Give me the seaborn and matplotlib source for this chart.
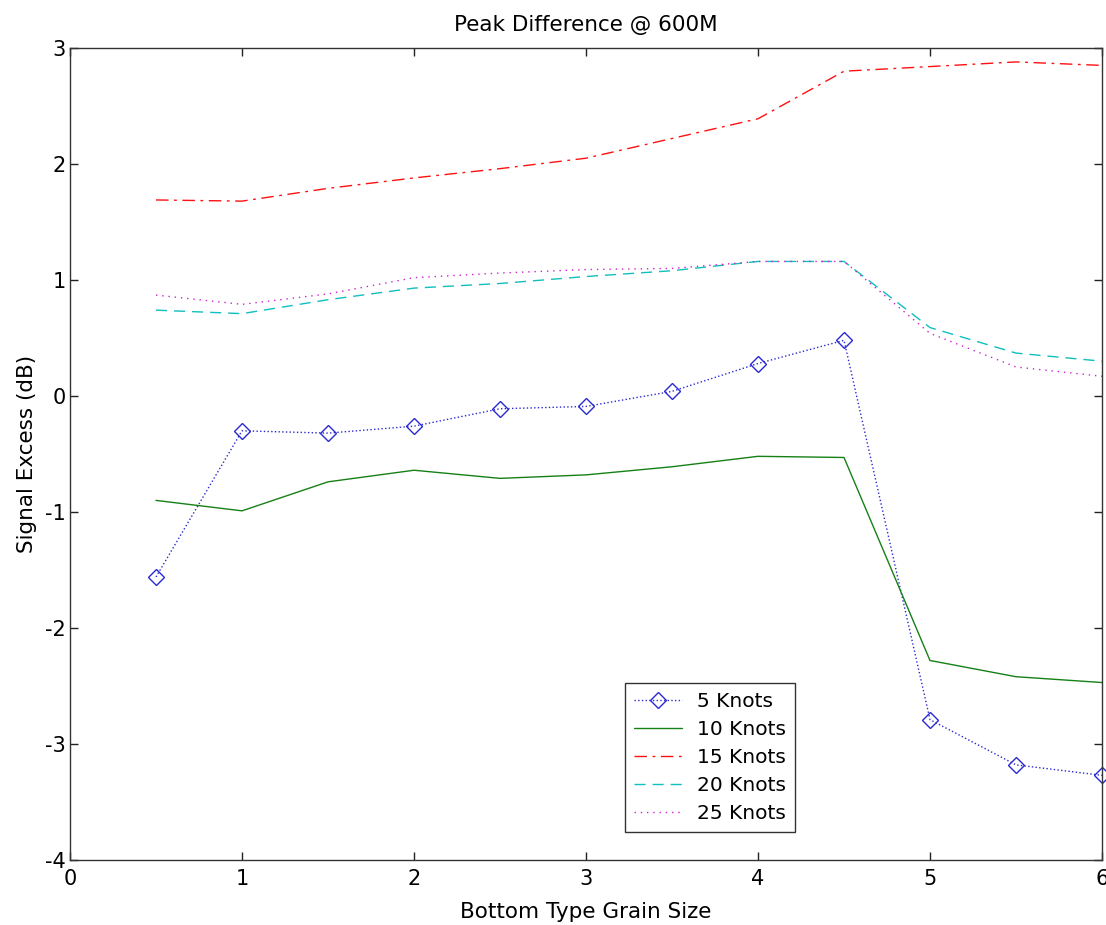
import numpy as np
import pandas as pd
import matplotlib
matplotlib.use("Agg")
import matplotlib.pyplot as plt
import seaborn as sns

# Grain size positions and signal excess per ship speed
grain_size = [0.5, 1.0, 1.5, 2.0, 2.5, 3.0, 3.5, 4.0, 4.5, 5.0, 5.5, 6.0]
knots_5 = [-1.56, -0.30, -0.32, -0.26, -0.11, -0.09, 0.04, 0.28, 0.48, -2.79, -3.18, -3.27]
knots_10 = [-0.90, -0.99, -0.74, -0.64, -0.71, -0.68, -0.61, -0.52, -0.53, -2.28, -2.42, -2.47]
knots_15 = [1.69, 1.68, 1.79, 1.88, 1.96, 2.05, 2.22, 2.39, 2.80, 2.84, 2.88, 2.85]
knots_20 = [0.74, 0.71, 0.83, 0.93, 0.97, 1.03, 1.08, 1.16, 1.16, 0.59, 0.37, 0.30]
knots_25 = [0.87, 0.79, 0.88, 1.02, 1.06, 1.09, 1.10, 1.16, 1.16, 0.54, 0.25, 0.17]
series_labels = ["5 Knots", "10 Knots", "15 Knots", "20 Knots", "25 Knots"]

sns.set_theme(style="white")
plt.rcParams["font.family"] = ["DejaVu Sans"]
plt.rcParams["axes.unicode_minus"] = False
plt.rcParams["text.color"] = "black"
plt.rcParams["axes.labelcolor"] = "black"

fig = plt.figure(figsize=(11.06, 9.25), dpi=100)
ax = fig.add_axes([70 / 1106, 65 / 925, 1032 / 1106, 812 / 925])

styles = [
    dict(color="#2a2ad0", linestyle=":", marker="D", markersize=8.5,
         markerfacecolor="none", markeredgecolor="#2a2ad0", markeredgewidth=1.0),
    dict(color="#168016", linestyle="-"),
    dict(color="#ff1010", linestyle=(0, (9, 4, 2, 4))),
    dict(color="#10bfbf", linestyle=(0, (8, 5))),
    dict(color="#d020d0", linestyle=(0, (1, 3.5))),
]
all_series = [knots_5, knots_10, knots_15, knots_20, knots_25]

for label, values, st in zip(series_labels, all_series, styles):
    df = pd.DataFrame({"x": grain_size, "y": values})
    sns.lineplot(data=df, x="x", y="y", ax=ax, label=label, linewidth=1.0,
                 clip_on=False, **st)

ax.set_xlim(0, 6)
ax.set_ylim(-4, 3)
ax.set_xticks(range(0, 7))
ax.set_yticks(range(-4, 4))
ax.tick_params(direction="in", length=6, width=1, colors="#222222",
               labelsize=15, top=True, right=True, bottom=True, left=True,
               labelcolor="black")
ax.tick_params(axis="x", pad=6.5)
ax.tick_params(axis="y", pad=3)
for side in ax.spines.values():
    side.set_visible(True)
    side.set_color("#333333")
    side.set_linewidth(1.0)

ax.set_xlabel("Bottom Type Grain Size", fontsize=15.5, labelpad=9.5)
ax.set_ylabel("Signal Excess (dB)", fontsize=15.5, labelpad=6)
ax.set_title("Peak Difference @ 600M", fontsize=15.5, pad=12)

leg = ax.legend(loc="lower left", bbox_to_anchor=(0.538, 0.034),
                borderaxespad=0, fontsize=14.5, frameon=True, fancybox=False,
                handlelength=2.35, labelspacing=0.45, borderpad=0.45,
                handletextpad=0.75)
leg.get_frame().set_edgecolor("black")
leg.get_frame().set_linewidth(1.0)

fig.savefig("out.png", dpi=100, facecolor="white")
